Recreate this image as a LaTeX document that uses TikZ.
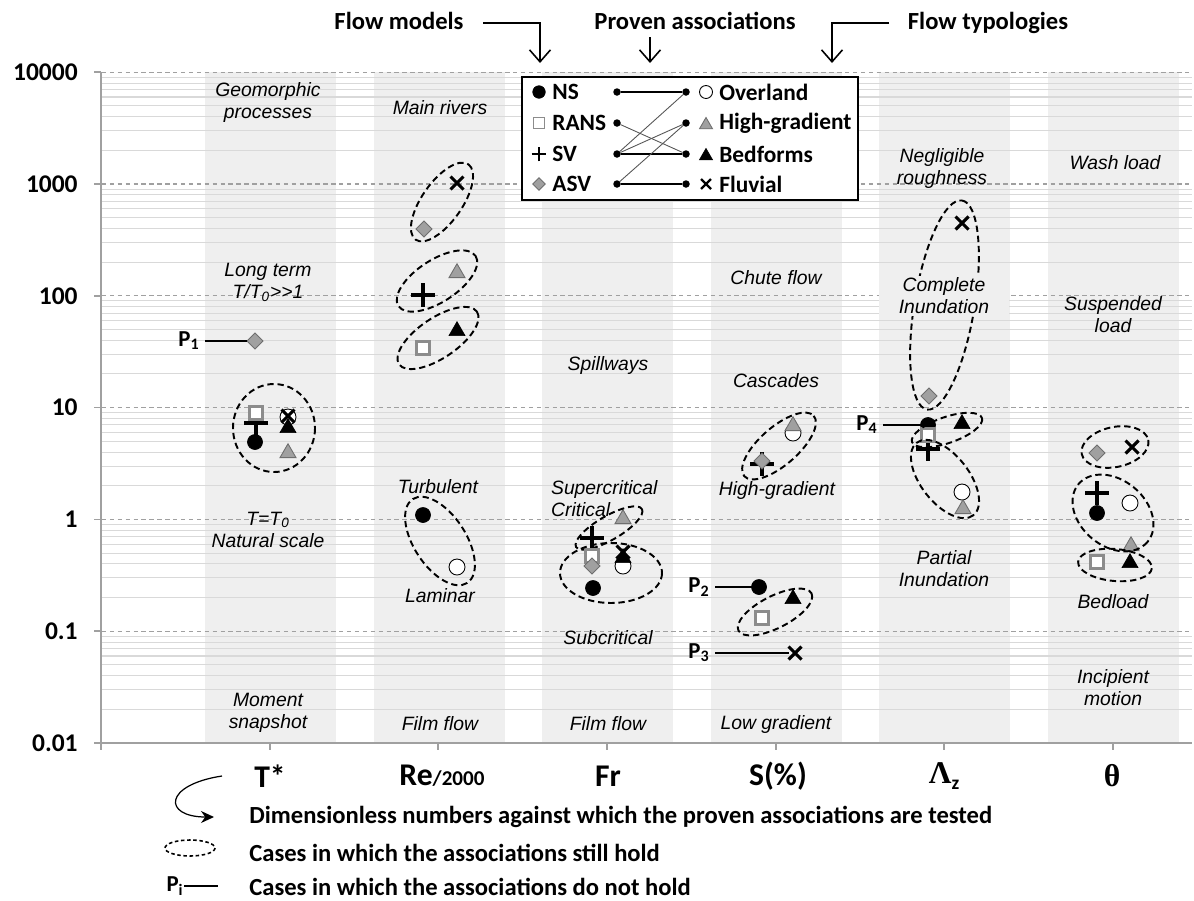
\documentclass[tikz,border=0pt]{standalone}
\usepackage{fontspec}
\setmainfont{Carlito}
\newfontfamily\chartfont{Liberation Sans}
\newfontfamily\greekfont{Liberation Serif}
\usetikzlibrary{shapes.geometric,shapes.misc,arrows.meta,positioning}

\definecolor{bandgray}{HTML}{EFEFEF}
\definecolor{gridgray}{HTML}{D9D9D9}
\definecolor{axisgray}{HTML}{A0A0A0}
\definecolor{markgray}{HTML}{A0A0A0}
\definecolor{markedge}{HTML}{6E6E6E}
\definecolor{squareedge}{HTML}{8C8C8C}
\definecolor{linkgray}{HTML}{555555}

\tikzset{ns/.style={circle, fill=black, draw=black, inner sep=0pt, outer sep=0pt, minimum size=#1},
ns/.default={0.3cm},
overland/.style={circle, fill=white, draw=black, line width=0.5pt, inner sep=0pt, outer sep=0pt, minimum size=#1},
overland/.default={0.32cm},
rans/.style={rectangle, fill=white, draw=squareedge, line width=1.4pt, inner sep=0pt, outer sep=0pt, minimum size=#1},
rans/.default={0.26cm},
%plus sign = cross turned by 45 degrees
sv/.style={cross out, rotate=45, draw=black, line width=1.8pt, inner sep=0pt, outer sep=0pt, minimum size=#1},
sv/.default={0.33cm},
asv/.style={diamond, fill=markgray, draw=markedge, line width=0.5pt, inner sep=0pt, outer sep=0pt, minimum size=#1},
asv/.default={0.32cm},
highgrad/.style={regular polygon, regular polygon sides=3, fill=markgray, draw=markedge, line width=0.5pt, inner sep=0pt, outer sep=0pt, minimum size=#1},
highgrad/.default={0.37cm},
bedforms/.style={regular polygon, regular polygon sides=3, fill=black, draw=black, inner sep=0pt, outer sep=0pt, minimum size=#1},
bedforms/.default={0.37cm},
fluvial/.style={cross out, draw=black, line width=1.8pt, inner sep=0pt, outer sep=0pt, minimum size=#1},
fluvial/.default={0.26cm}}

\begin{document}
\begin{tikzpicture}[x=0.02cm,y=-0.02cm,
  lbl/.style={font=\chartfont\itshape\fontsize{11}{12.5}\selectfont, align=center, inner sep=1pt},
  ylbl/.style={font=\bfseries\fontsize{14.5}{16}\selectfont, anchor=east, inner sep=0pt},
  axlbl/.style={font=\bfseries\fontsize{18}{20}\selectfont, inner sep=0pt},
  toplbl/.style={font=\bfseries\fontsize{14}{16}\selectfont, inner sep=0pt, anchor=base},
  leglbl/.style={font=\bfseries\fontsize{13.3}{15}\selectfont, anchor=west, inner sep=0pt},
  keylbl/.style={font=\bfseries\fontsize{14}{16}\selectfont, anchor=west, inner sep=0pt},
  plbl/.style={font=\bfseries\fontsize{13}{15}\selectfont, inner sep=3pt},
  hold/.style={dash pattern=on 3.6pt off 2.2pt, line width=1.1pt},
  toparrow/.style={-{Straight Barb[length=0.24cm,width=0.42cm]}, line width=0.9pt},
  legdot/.style={circle, fill=black, inner sep=0pt, outer sep=0pt, minimum size=0.15cm}]

\useasboundingbox (0,0) rectangle (1194,900);

%DRAWING CHART BACKGROUND
  \foreach \c in {270,439,607,776,944,1113}
    \fill[bandgray] ({\c-65.5},72) rectangle ({\c+65.5},743);
  \foreach \d in {0,...,5}{
    \foreach \k in {2,...,9}{
      \pgfmathsetmacro{\yy}{743-111.8*(\d+ln(\k)/ln(10))}
      \draw[gridgray, line width=0.6pt] (101,\yy) -- (1192,\yy);
    }
  }
  \foreach \d in {1,...,6}
    \draw[axisgray, dash pattern=on 2.5pt off 2pt, line width=0.6pt] (94,{743-111.8*\d}) -- (1192,{743-111.8*\d});
  \draw[axisgray, line width=1pt] (101,72) -- (101,743) -- (1192,743);
  \foreach \d in {0,...,6}
    \draw[axisgray, line width=1pt] (94,{743-111.8*\d}) -- (101,{743-111.8*\d});
  \foreach \k in {0,...,6}
    \draw[axisgray, line width=1pt] ({101+168.67*\k},743) -- ({101+168.67*\k},750);
  \foreach \lab [count=\i from 0] in {0.01,0.1,1,10,100,1000,10000}
    \node[ylbl] (ylab\i) at (78,{743-111.8*\i}) {\lab};

%DRAWING COLUMN TEXTS
  \node[lbl] (geo) at (268,102.5) {Geomorphic\\processes};
  \node[lbl] (mainriv) at (440,108) {Main rivers};
  \node[lbl] (negl) at (942,168.5) {Negligible\\roughness};
  \node[lbl] (wash) at (1115,163) {Wash load};
  \node[lbl] (longterm) at (268,282.5) {Long term\\T/T\textsubscript{0}>>1};
  \node[lbl] (chute) at (776,278) {Chute flow};
  \node[lbl] (susp) at (1113,315) {Suspended\\load};
  \node[lbl] (spill) at (608,365) {Spillways};
  \node[lbl] (casc) at (776,381) {Cascades};
  \node[lbl] (turb) at (438,487) {Turbulent};
  \node[lbl, anchor=west, align=left] (super) at (549,499) {Supercritical\\Critical};
  \node[lbl] (highg) at (777,490) {High-gradient};
  \node[lbl] (natural) at (268,529.5) {T=T\textsubscript{0}\\Natural scale};
  \node[lbl] (partial) at (944,569) {Partial\\Inundation};
  \node[lbl] (laminar) at (440,596) {Laminar};
  \node[lbl] (bedload) at (1113,602) {Bedload};
  \node[lbl] (subcrit) at (608,638) {Subcritical};
  \node[lbl] (moment) at (268,713) {Moment\\snapshot};
  \node[lbl] (film1) at (440,724) {Film flow};
  \node[lbl] (film2) at (608,724) {Film flow};
  \node[lbl] (lowgrad) at (776,724) {Low gradient};
  \node[lbl] (incip) at (1113,688) {Incipient\\motion};

%T* COLUMN
  \node[asv] (T-asv) at (255,341) {};
  \node[plbl] (P1) at (189,341) {P\textsubscript{1}};
  \draw[line width=0.6pt] (P1) -- (T-asv);
  \node[ns] (T-ns) at (255,442) {};
  \node[sv] (T-sv) at (256,423) {};
  \node[rans] (T-rans) at (256,413) {};
  \node[overland] (T-ovl) at (288,417) {};
  \node[fluvial] (T-flu) at (288,416) {};
  \node[bedforms] (T-bed) at (288,428) {};
  \node[highgrad] (T-hig) at (288,453) {};
  \draw[hold] (274,428) ellipse [x radius=41, y radius=44];

%RE COLUMN
  \node[asv] (Re-asv) at (424,229) {};
  \node[fluvial] (Re-flu) at (457,183) {};
  \draw[hold, rotate around={55:(442,202)}] (442,202) ellipse [x radius=46, y radius=20];
  \node[highgrad] (Re-hig) at (457,273) {};
  \node[sv] (Re-sv) at (423,295) {};
  \draw[hold, rotate around={33:(437,281)}] (437,281) ellipse [x radius=46, y radius=21];
  \node[bedforms] (Re-bed) at (457,331) {};
  \node[rans] (Re-rans) at (423,348) {};
  \draw[hold, rotate around={34:(438,338)}] (438,338) ellipse [x radius=47, y radius=20];
  \node[ns] (Re-ns) at (423,515) {};
  \node[overland] (Re-ovl) at (457,567) {};
  \draw[hold, rotate around={-57:(440,541)}] (440,541) ellipse [x radius=50, y radius=26];

%FR COLUMN
  \node[highgrad] (Fr-hig) at (623,519) {};
  \node[sv] (Fr-sv) at (592,538) {};
  \draw[hold, rotate around={30:(609,528)}] (609,528) ellipse [x radius=38, y radius=12];
  \node[rans] (Fr-rans) at (592,556) {};
  \node[asv] (Fr-asv) at (592,566) {};
  \node[overland] (Fr-ovl) at (623,566) {};
  \node[bedforms] (Fr-bed) at (623,558) {};
  \node[fluvial] (Fr-flu) at (623,552) {};
  \node[ns] (Fr-ns) at (593,588) {};
  \draw[hold] (611,573) ellipse [x radius=51, y radius=30];

%S COLUMN
  \node[overland] (S-ovl) at (793,433) {};
  \node[highgrad] (S-hig) at (793,426) {};
  \node[sv] (S-sv) at (762,464) {};
  \node[asv] (S-asv) at (762,461) {};
  \draw[hold, rotate around={41:(779,446)}] (779,446) ellipse [x radius=46, y radius=19];
  \node[ns] (S-ns) at (759,587) {};
  \node[plbl] (P2) at (699,587) {P\textsubscript{2}};
  \draw[line width=0.6pt] (P2) -- (S-ns);
  \node[bedforms] (S-bed) at (793,599) {};
  \node[rans] (S-rans) at (762,618) {};
  \draw[hold, rotate around={27:(775,612)}] (775,612) ellipse [x radius=41, y radius=16];
  \node[fluvial] (S-flu) at (795,653) {};
  \node[plbl] (P3) at (699,653) {P\textsubscript{3}};
  \draw[line width=0.6pt] (P3) -- (S-flu);

%LAMBDA COLUMN
  \node[fluvial] (L-flu) at (962,223) {};
  \node[asv] (L-asv) at (929,396) {};
  \draw[hold, rotate around={80.5:(944.5,305)}] (944.5,305) ellipse [x radius=106, y radius=30];
  \node[lbl, fill=bandgray, minimum width=2.62cm] (complete) at (944,296) {Complete\\Inundation};
  \node[ns] (L-ns) at (928,425) {};
  \node[plbl] (P4) at (867,425) {P\textsubscript{4}};
  \draw[line width=0.6pt] (P4) -- (L-ns);
  \node[sv] (L-sv) at (928,449) {};
  \node[rans] (L-rans) at (928,435) {};
  \node[bedforms] (L-bed) at (962,424) {};
  \draw[hold, rotate around={19:(947,430)}] (947,430) ellipse [x radius=37, y radius=13];
  \node[overland] (L-ovl) at (962,492) {};
  \node[highgrad] (L-hig) at (963,509) {};
  \draw[hold, rotate around={-52:(945,479)}] (945,479) ellipse [x radius=46, y radius=24];

%THETA COLUMN
  \node[asv] (Th-asv) at (1097,453) {};
  \node[fluvial] (Th-flu) at (1132,447) {};
  \draw[hold, rotate around={12:(1115,447)}] (1115,447) ellipse [x radius=34, y radius=20];
  \node[ns] (Th-ns) at (1097,513) {};
  \node[sv] (Th-sv) at (1097,493) {};
  \node[overland] (Th-ovl) at (1130,503) {};
  \node[highgrad] (Th-hig) at (1131,546) {};
  \draw[hold, rotate around={-40:(1113,513)}] (1113,513) ellipse [x radius=45, y radius=33];
  \node[rans] (Th-rans) at (1097,562) {};
  \node[bedforms] (Th-bed) at (1130,563) {};
  \draw[hold, rotate around={-5:(1115,565)}] (1115,565) ellipse [x radius=37, y radius=16];

%DRAWING AXIS NAMES
  \node[axlbl] (labT) at (270,776) {T*};
  \node[axlbl] (labRe) at (442,776) {Re{\fontsize{12}{14}\selectfont/2000}};
  \node[axlbl] (labFr) at (608,776) {Fr};
  \node[axlbl] (labS) at (778,776) {S(\%)};
  \node[axlbl] (labL) at (944,776) {{\greekfont Λ}\raisebox{-0.35ex}{\fontsize{11}{12}\selectfont z}};
  \node[axlbl] (labTh) at (1112,776) {{\greekfont θ}};

%DRAWING LEGEND BOX
  \draw[fill=white, line width=0.8pt] (522,77) rectangle (858,200);
  \node[ns=0.25cm] (kNS) at (539,92) {};
  \node[rans=0.22cm, line width=1.1pt] (kRANS) at (539,123) {};
  \node[sv=0.21cm, line width=1.4pt] (kSV) at (539,154) {};
  \node[asv=0.25cm] (kASV) at (539,184) {};
  \node[leglbl] (tNS) at (552,92) {NS};
  \node[leglbl] (tRANS) at (552,123) {RANS};
  \node[leglbl] (tSV) at (552,154) {SV};
  \node[leglbl] (tASV) at (552,184) {ASV};
  \node[overland=0.26cm] (kOvl) at (706,92) {};
  \node[highgrad=0.3cm] (kHig) at (706,125) {};
  \node[bedforms=0.3cm] (kBed) at (706,156) {};
  \node[fluvial=0.2cm, line width=1.3pt] (kFlu) at (706,184) {};
  \node[leglbl] (tOvl) at (719,92) {Overland};
  \node[leglbl] (tHig) at (719,123) {High-gradient};
  \node[leglbl] (tBed) at (719,154) {Bedforms};
  \node[leglbl] (tFlu) at (719,184) {Fluvial};

  \node[legdot] (mNS) at (617,92) {};
  \node[legdot] (mRANS) at (617,123) {};
  \node[legdot] (mSV) at (617,154) {};
  \node[legdot] (mASV) at (617,184) {};
  \node[legdot] (nOvl) at (686,92) {};
  \node[legdot] (nHig) at (686,123) {};
  \node[legdot] (nBed) at (686,154) {};
  \node[legdot] (nFlu) at (686,184) {};
  \draw[line width=0.8pt] (mNS) -- (nOvl);
  \draw[line width=0.8pt] (mSV) -- (nBed);
  \draw[line width=0.8pt] (mASV) -- (nFlu);
  \draw[linkgray, line width=0.5pt] (mRANS) -- (nBed);
  \draw[linkgray, line width=0.5pt] (mSV) -- (nOvl);
  \draw[linkgray, line width=0.5pt] (mSV) -- (nHig);
  \draw[linkgray, line width=0.5pt] (mASV) -- (nHig);

%DRAWING TOP CAPTIONS
  \node[toplbl] (flowmodels) at (399,29) {Flow models};
  \node[toplbl] (proven) at (695,29) {Proven associations};
  \node[toplbl] (flowtypes) at (988,29) {Flow typologies};
  \coordinate (fmStart) at (483,23);
  \coordinate (fmEnd) at (540,63);
  \draw[toparrow] (fmStart) -| (fmEnd);
  \coordinate (paStart) at (650,37);
  \coordinate (paEnd) at (650,63);
  \draw[toparrow] (paStart) -- (paEnd);
  \coordinate (ftStart) at (889,23);
  \coordinate (ftEnd) at (832,63);
  \draw[toparrow] (ftStart) -| (ftEnd);

%DRAWING KEY
  \coordinate (keyArrStart) at (222,776);
  \coordinate (keyArrEnd) at (214,817);
  \draw[-{Stealth[length=0.26cm,width=0.24cm]}, line width=0.7pt] (keyArrStart) .. controls (163,785) and (163,817) .. (keyArrEnd);
  \node[keylbl] (key1) at (249,817) {Dimensionless numbers against which the proven associations are tested};
  \draw[dash pattern=on 2pt off 1.5pt, line width=0.9pt] (190,848) ellipse [x radius=25, y radius=8];
  \node[keylbl] (key2) at (249,853) {Cases in which the associations still hold};
  \node[plbl, inner sep=0pt] (Pi) at (175,886) {P\textsubscript{i}};
  \coordinate (PiEnd) at (218,886);
  \draw[line width=0.8pt] (Pi) -- (PiEnd);
  \node[keylbl] (key3) at (249,887) {Cases in which the associations do not hold};

\end{tikzpicture}
\end{document}
